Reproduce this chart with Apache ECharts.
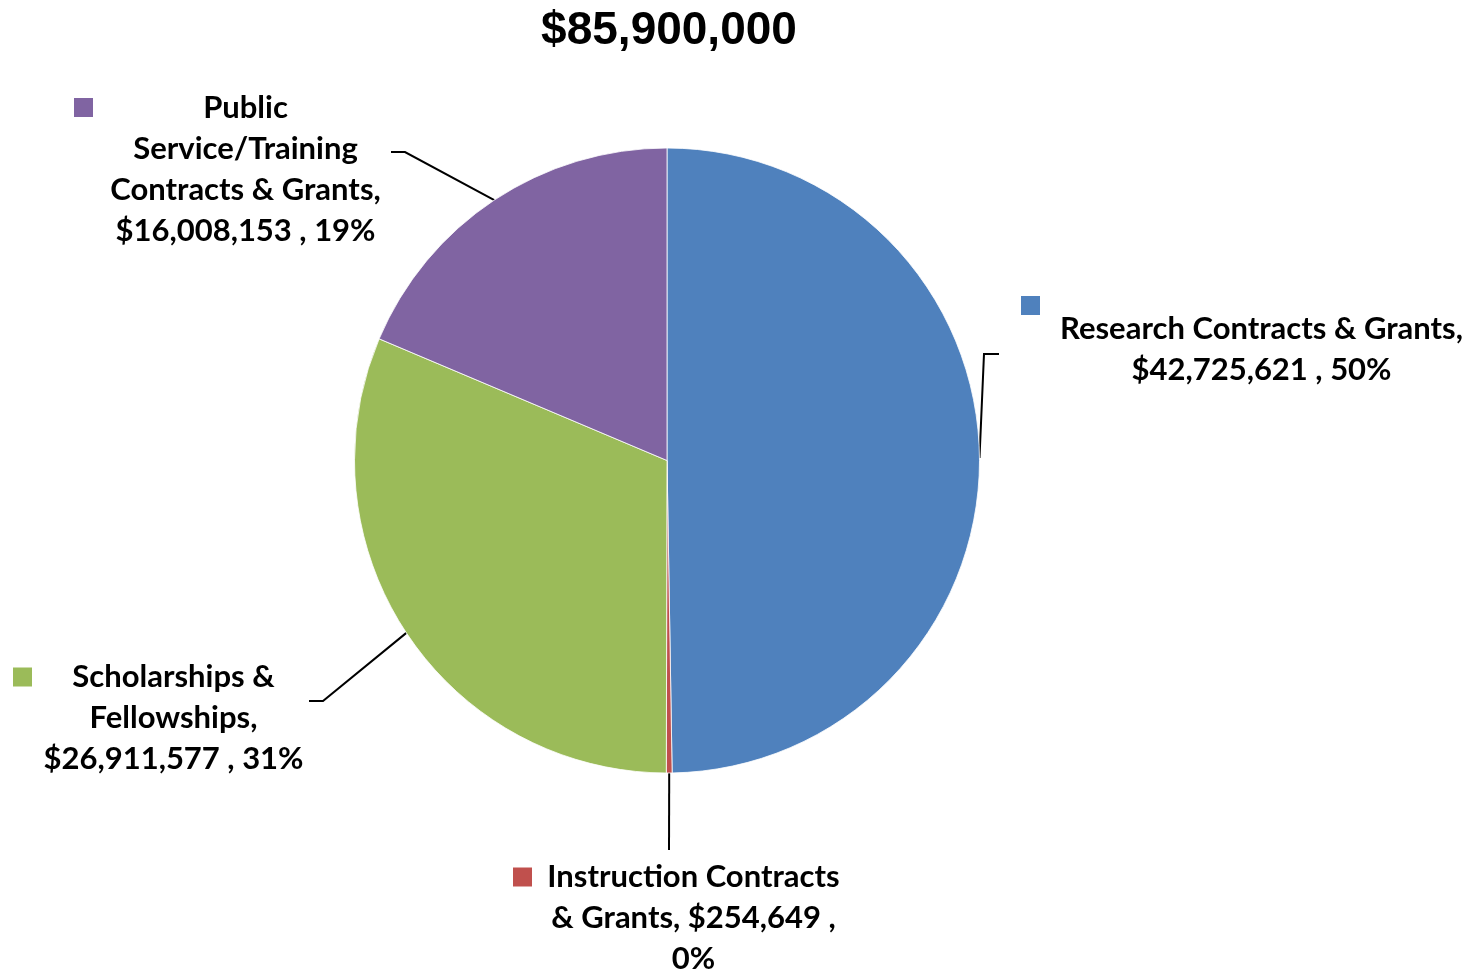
<!DOCTYPE html>
<html><head><meta charset="utf-8">
<style>html,body{margin:0;padding:0;background:#fff}#c{width:1481px;height:974px}</style>
<script src="https://cdn.jsdelivr.net/npm/echarts@6/dist/echarts.min.js"></script>
</head><body><div id="c"></div>
<script>
// ---- data ----
const categories = ['Research Contracts & Grants', 'Instruction Contracts & Grants', 'Scholarships & Fellowships', 'Public Service/Training Contracts & Grants'];
const values = [42725621, 254649, 26911577, 16008153];
const colors = ['#4F81BD', '#C0504D', '#9BBB59', '#8064A2'];

// ---- layout settings (pixels) ----
const labelPlacement = [
  { x: 1021, y: 302.5, wrap: 440, gap: 19, markerLine: true, elbow: [984, 354], end: [999, 354] },
  { x: 513, y: 856.5, wrap: 310, gap: 14, elbow: [669, 850], end: [669, 850] },
  { x: 13, y: 656.5, wrap: 275, gap: 10, elbow: [323, 701], end: [309, 701] },
  { x: 74, y: 87, wrap: 285, gap: 16, elbow: [405, 152], end: [391, 152] }
];
const FS = 31, LH = 41, MK = 19;
const FONT = 'Lato';

const total = values.reduce((a, b) => a + b, 0);
const cv = document.createElement('canvas').getContext('2d');
function measure(t) { cv.font = 'bold ' + FS + 'px ' + FONT; return cv.measureText(t).width; }
function money(v) { return '$' + v.toLocaleString('en-US'); }
function labelText(name, v) { return name + ', ' + money(v) + ' , ' + Math.round(v / total * 100) + '%'; }
function wrap(text, w) {
  const words = text.split(' ');
  const lines = [];
  let cur = '';
  words.forEach(wd => {
    const test = cur ? cur + ' ' + wd : wd;
    if (cur && measure(test) > w) { lines.push(cur); cur = wd; } else cur = test;
  });
  if (cur) lines.push(cur);
  return lines;
}
const wrapped = categories.map((n, i) => wrap(labelText(n, values[i]), labelPlacement[i].wrap));

const data = categories.map((name, i) => {
  const W = Math.ceil(Math.max(...wrapped[i].map(measure))) + 2;
  const gap = labelPlacement[i].gap;
  return {
    name: name, value: values[i],
    itemStyle: { color: colors[i] },
    label: {
      rich: {
        m: { width: MK, height: MK, backgroundColor: colors[i] },
        mk: { width: MK, height: MK, lineHeight: 6, backgroundColor: colors[i] },
        g: { width: gap },
        s: { width: MK + gap },
        t: { width: W, align: 'center', fontSize: FS, fontWeight: 'bold', fontFamily: FONT, lineHeight: LH, color: '#000' }
      }
    }
  };
});

const chart = echarts.init(document.getElementById('c'), null, { renderer: 'canvas' });
chart.setOption({
  animation: false,
  backgroundColor: '#fff',
  title: {
    text: money(total), left: 664, top: 3, textAlign: 'center',
    textStyle: { fontFamily: '"Liberation Sans", Arial, sans-serif', fontWeight: 'bold', fontSize: 46, color: '#000' }
  },
  series: [{
    type: 'pie',
    center: [667, 460.5],
    radius: 312.5,
    startAngle: 90,
    clockwise: true,
    avoidLabelOverlap: false,
    silent: true,
    itemStyle: { borderColor: '#ffffff', borderWidth: 0.8 },
    label: {
      show: true, position: 'outside', alignTo: 'none',
      formatter: function (p) {
        const pl = labelPlacement[p.dataIndex];
        const lines = wrapped[p.dataIndex];
        let s = lines.map((l, k) => (k === 0 && !pl.markerLine ? '{m|}{g|}' : '{s|}') + '{t|' + l + '}').join('\n');
        if (pl.markerLine) s = '{mk|}\n' + s;
        return s;
      }
    },
    labelLine: { show: true, length: 20, length2: 15, lineStyle: { color: '#000', width: 2 } },
    labelLayout: function (params) {
      const pl = labelPlacement[params.dataIndex];
      const p0 = params.labelLinePoints ? params.labelLinePoints[0] : pl.elbow;
      return { x: pl.x, y: pl.y, align: 'left', verticalAlign: 'top', labelLinePoints: [p0, pl.elbow, pl.end] };
    },
    data: data
  }]
});
</script>
</body></html>
